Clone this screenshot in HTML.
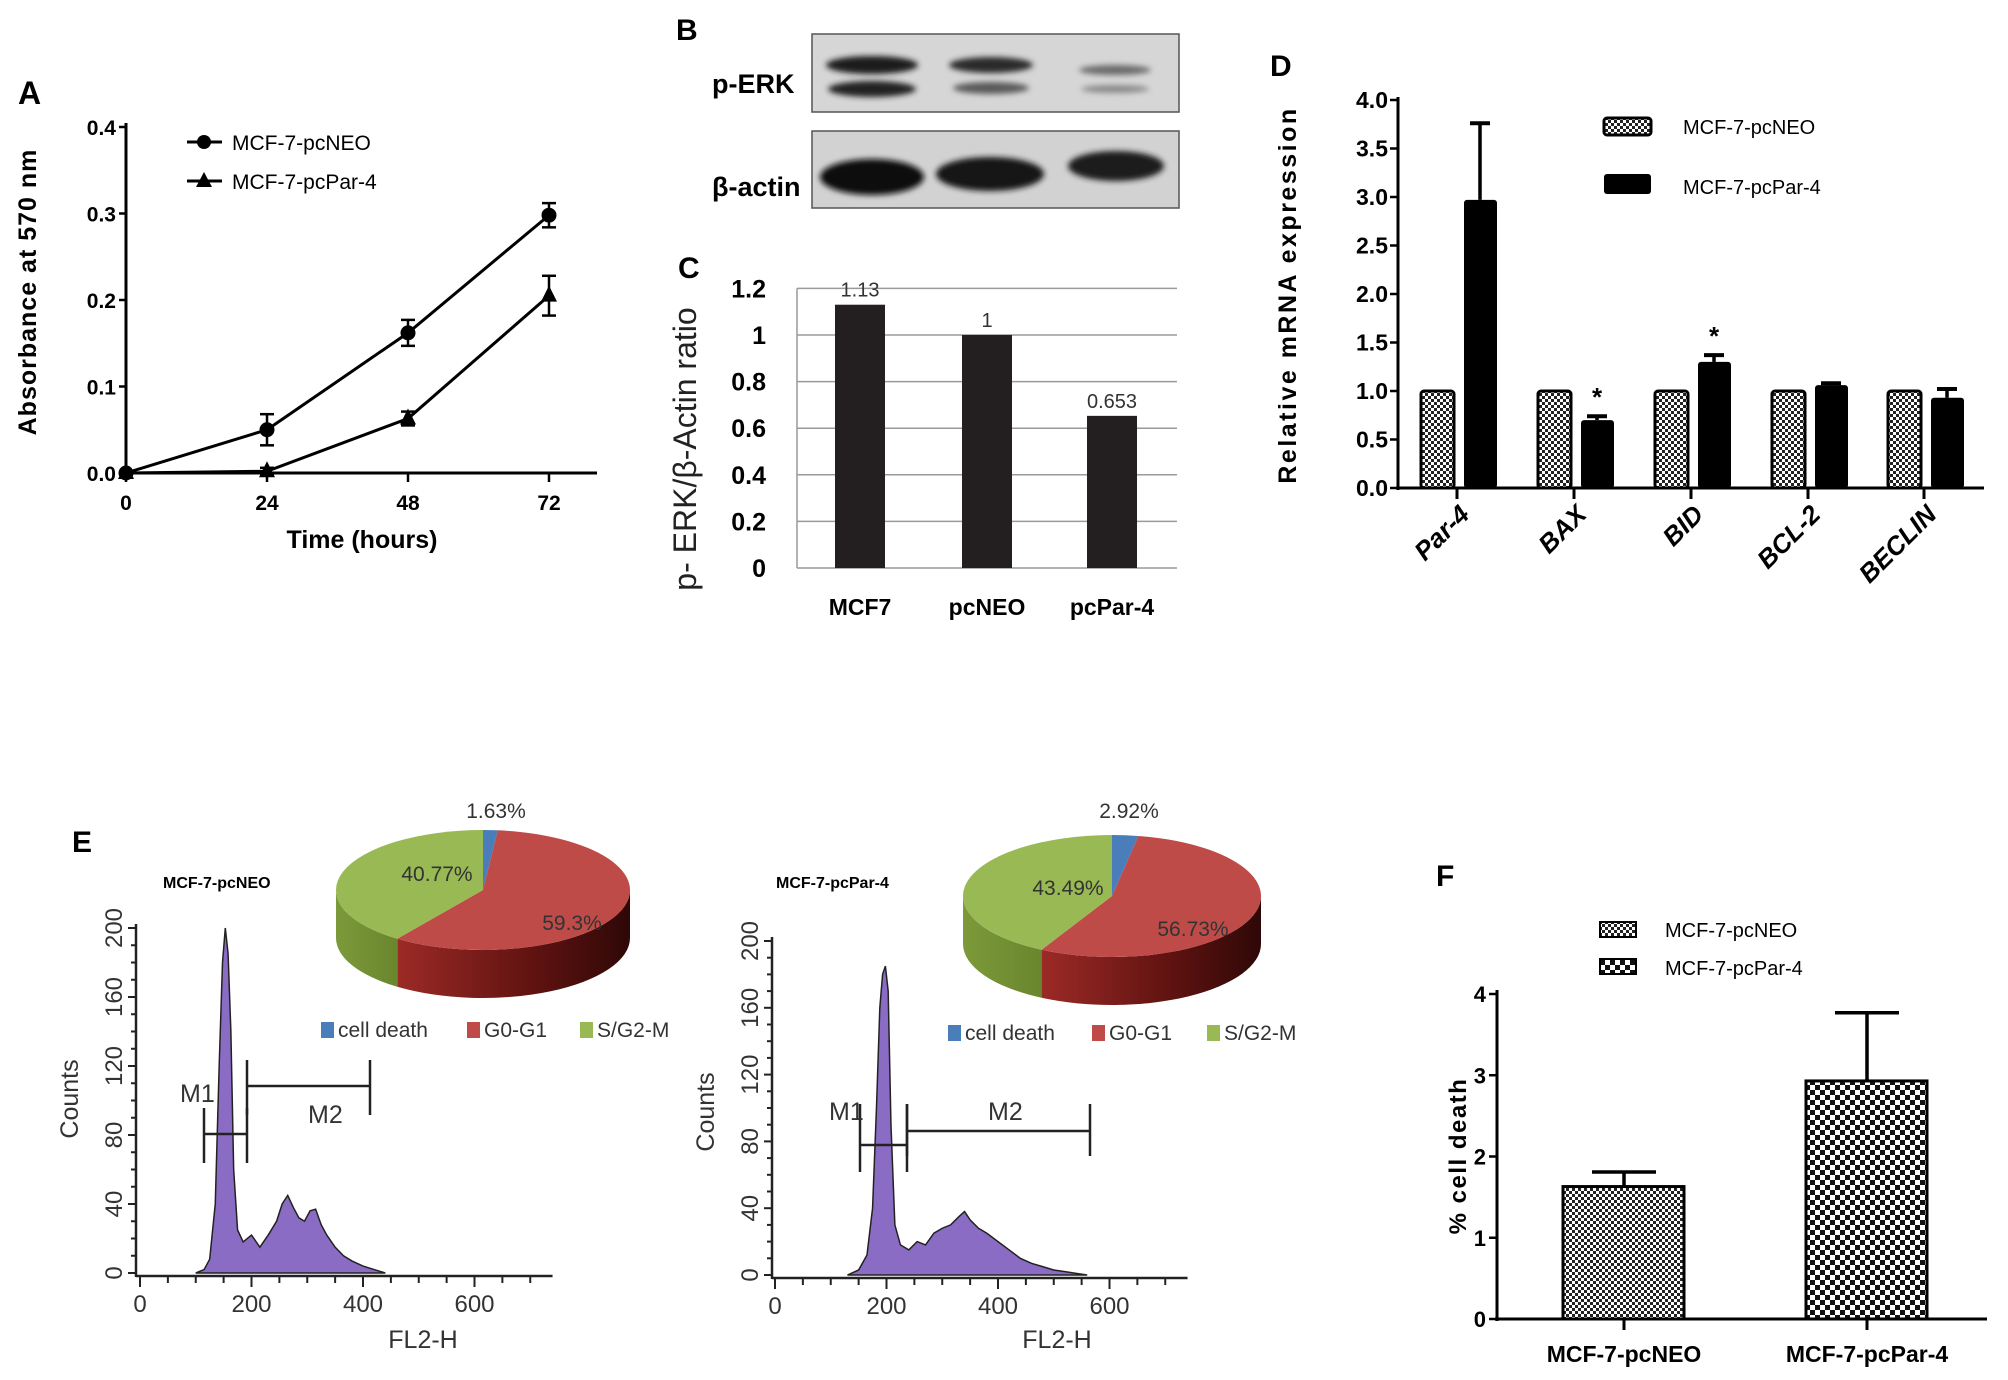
<!DOCTYPE html>
<html><head><meta charset="utf-8"><style>
html,body{margin:0;padding:0;background:#fff}
svg{display:block;font-family:"Liberation Sans",Arial,sans-serif}
.b{font-weight:bold}
</style></head><body>
<svg id="fig" width="2008" height="1380" viewBox="0 0 2008 1380" xmlns="http://www.w3.org/2000/svg">
<defs>
<pattern id="chk" width="6" height="6" patternUnits="userSpaceOnUse"><rect width="6" height="6" fill="#fff"/><rect width="3" height="3" fill="#222"/><rect x="3" y="3" width="3" height="3" fill="#222"/></pattern>
<pattern id="chk2" width="10" height="10" patternUnits="userSpaceOnUse"><rect width="10" height="10" fill="#fff"/><rect width="5" height="5" fill="#111"/><rect x="5" y="5" width="5" height="5" fill="#111"/></pattern>
<filter id="blur" x="-20%" y="-50%" width="140%" height="200%"><feGaussianBlur stdDeviation="3"/></filter>
<linearGradient id="redside" x1="0" x2="1"><stop offset="0" stop-color="#9c2a26"/><stop offset="0.6" stop-color="#5e1210"/><stop offset="1" stop-color="#2e0807"/></linearGradient>
<linearGradient id="greenside" x1="0" x2="1"><stop offset="0" stop-color="#7c9a3a"/><stop offset="1" stop-color="#6a862e"/></linearGradient>
</defs>

<!-- Panel A static -->
<text x="18" y="104" font-size="32" class="b">A</text>
<text transform="translate(36,292) rotate(-90)" text-anchor="middle" font-size="25" class="b" letter-spacing="1">Absorbance at 570 nm</text>
<text x="362" y="548" text-anchor="middle" font-size="25" class="b">Time (hours)</text>
<g>
<line x1="187" y1="142" x2="222" y2="142" stroke="#000" stroke-width="3"/><circle cx="204" cy="142" r="7"/>
<text x="232" y="150" font-size="21">MCF-7-pcNEO</text>
<line x1="187" y1="181" x2="222" y2="181" stroke="#000" stroke-width="3"/><polygon points="204,172 212,187 196,187"/>
<text x="232" y="189" font-size="21">MCF-7-pcPar-4</text>
</g>
<g id="gA"></g>

<!-- Panel B -->
<text x="676" y="40" font-size="30" class="b">B</text>
<text x="712" y="93" font-size="27" class="b">p-ERK</text>
<text x="712" y="196" font-size="27" class="b">β-actin</text>
<g>
<rect x="812" y="34" width="367" height="78" fill="#d6d6d6" stroke="#555" stroke-width="1.5"/>
<g filter="url(#blur)">
<ellipse cx="872" cy="65" rx="46" ry="9" fill="#1a1a1a"/><ellipse cx="872" cy="89" rx="44" ry="8" fill="#222"/>
<ellipse cx="991" cy="65" rx="42" ry="8" fill="#2a2a2a"/><ellipse cx="991" cy="88" rx="38" ry="6" fill="#5a5a5a"/>
<ellipse cx="1115" cy="70" rx="36" ry="5" fill="#6a6a6a"/><ellipse cx="1115" cy="89" rx="34" ry="4" fill="#8a8a8a"/>
</g></g>
<g>
<rect x="812" y="131" width="367" height="77" fill="#d2d2d2" stroke="#555" stroke-width="1.5"/>
<g filter="url(#blur)">
<ellipse cx="872" cy="177" rx="52" ry="18" fill="#111"/><ellipse cx="990" cy="174" rx="54" ry="17" fill="#181818"/><ellipse cx="1116" cy="166" rx="48" ry="15" fill="#1c1c1c"/>
</g></g>

<!-- Panel C -->
<text x="678" y="278" font-size="30" class="b">C</text>
<text transform="translate(696,449) rotate(-90)" text-anchor="middle" font-size="32" fill="#222">p- ERK/β-Actin ratio</text>
<g id="gC"></g>

<!-- Panel D -->
<text x="1270" y="76" font-size="30" class="b">D</text>
<text transform="translate(1296,295) rotate(-90)" text-anchor="middle" font-size="25" class="b" letter-spacing="2.5">Relative mRNA expression</text>
<g>
<rect x="1604" y="118" width="47" height="17" rx="3" fill="url(#chk)" stroke="#000" stroke-width="3"/>
<text x="1683" y="134" font-size="20">MCF-7-pcNEO</text>
<rect x="1604" y="174" width="47" height="20" rx="3" fill="#000"/>
<text x="1683" y="194" font-size="20">MCF-7-pcPar-4</text>
</g>
<g id="gD"></g>

<!-- Panel E -->
<text x="72" y="852" font-size="30" class="b">E</text>
<text x="163" y="888" font-size="16" class="b">MCF-7-pcNEO</text>
<text x="776" y="888" font-size="16" class="b">MCF-7-pcPar-4</text>
<text transform="translate(78,1099) rotate(-90)" text-anchor="middle" font-size="25" fill="#333">Counts</text>
<text transform="translate(714,1112) rotate(-90)" text-anchor="middle" font-size="25" fill="#333">Counts</text>
<text x="423" y="1348" text-anchor="middle" font-size="25" fill="#333">FL2-H</text>
<text x="1057" y="1348" text-anchor="middle" font-size="25" fill="#333">FL2-H</text>
<g id="gE"></g>

<!-- Panel F -->
<text x="1436" y="886" font-size="30" class="b">F</text>
<text transform="translate(1466,1156) rotate(-90)" text-anchor="middle" font-size="24" class="b" letter-spacing="1.5">% cell death</text>
<g>
<rect x="1600" y="922" width="36" height="15" fill="url(#chk)" stroke="#000" stroke-width="2"/>
<text x="1665" y="937" font-size="20">MCF-7-pcNEO</text>
<rect x="1600" y="959" width="36" height="15" fill="url(#chk2)" stroke="#000" stroke-width="2"/>
<text x="1665" y="975" font-size="20">MCF-7-pcPar-4</text>
</g>
<g id="gF"></g>
</svg>
<script>
// ---------- DATA ----------
const aTimes = [0, 24, 48, 72];
const aNeo = [0, 0.05, 0.162, 0.298];
const aNeoErr = [0, 0.018, 0.015, 0.014];
const aPar = [0, 0.002, 0.063, 0.205];
const aParErr = [0, 0.004, 0.008, 0.023];
const aYTicks = ["0.0", "0.1", "0.2", "0.3", "0.4"];

const cCats = ["MCF7", "pcNEO", "pcPar-4"];
const cVals = [1.13, 1, 0.653];
const cLabels = ["1.13", "1", "0.653"];
const cYTicks = ["0", "0.2", "0.4", "0.6", "0.8", "1", "1.2"];

const dCats = ["Par-4", "BAX", "BID", "BCL-2", "BECLIN"];
const dNeo = [1, 1, 1, 1, 1];
const dPar = [2.97, 0.70, 1.30, 1.06, 0.93];
const dParErr = [0.79, 0.04, 0.07, 0.02, 0.09];
const dStars = ["", "*", "*", "", ""];
const dYTicks = ["0.0", "0.5", "1.0", "1.5", "2.0", "2.5", "3.0", "3.5", "4.0"];

const h1Fl2 = [100,115,125,135,142,148,153,158,163,168,175,185,200,215,230,245,255,265,275,285,295,305,315,325,335,350,365,380,400,420,440];
const h1Counts = [0,2,8,40,120,180,200,185,140,60,25,18,22,15,22,30,40,45,38,32,30,36,37,28,22,15,10,7,4,2,0];
const h2Fl2 = [130,150,165,175,182,188,193,198,203,208,215,225,240,255,270,285,300,315,330,340,350,365,380,400,420,440,460,480,500,520,540,560];
const h2Counts = [0,3,12,40,100,160,180,185,170,90,30,18,15,20,18,25,28,30,35,38,33,28,25,20,15,10,7,5,3,2,1,0];
const hXTicks = ["0", "200", "400", "600"];
const hYTicks = ["0", "40", "80", "120", "160", "200"];
const pie1Vals = [1.63, 59.3, 40.77];
const pie2Vals = [2.92, 56.73, 43.49];
const pieLabels1 = ["1.63%", "59.3%", "40.77%"];
const pieLabels2 = ["2.92%", "56.73%", "43.49%"];
const pieLegend = ["cell death", "G0-G1", "S/G2-M"];

const fCats = ["MCF-7-pcNEO", "MCF-7-pcPar-4"];
const fVals = [1.63, 2.93];
const fErr = [0.18, 0.84];
const fYTicks = ["0", "1", "2", "3", "4"];

// ---------- helpers ----------
const NS = "http://www.w3.org/2000/svg";
function mk(parent, tag, attrs, name) {
  const el = document.createElementNS(NS, tag);
  for (const k in attrs) el.setAttribute(k, attrs[k]);
  
  
  parent.appendChild(el);
  return el;
}
function txt(parent, x, y, s, size, name, extra) {
  const t = mk(parent, 'text', Object.assign({x: x, y: y, 'font-size': size}, extra || {}), name);
  t.textContent = s;
  return t;
}
function line(p, x1, y1, x2, y2, w, name, col) {
  return mk(p, 'line', {x1: x1, y1: y1, x2: x2, y2: y2, stroke: col || '#000', 'stroke-width': w}, name);
}

// ---------- Panel A ----------
(function(){
  const g = document.getElementById('gA');
  const xA = t => 126 + t * (423 / 72);
  const yA = v => 473 - v * 865;
  line(g, 126, 123, 126, 475, 3, 'a-y-axis');
  line(g, 124, 473, 597, 473, 3, 'a-x-axis');
  aYTicks.forEach((s, i) => {
    const v = i * 0.1;
    line(g, 119, yA(v), 126, yA(v), 2.5, 'a-y-tick');
    txt(g, 116, yA(v) + 8, s, 21, 'a-y-tick-label', {'text-anchor': 'end', 'font-weight': 'bold'});
  });
  aTimes.forEach(t => {
    line(g, xA(t), 473, xA(t), 482, 2.5, 'a-x-tick');
    txt(g, xA(t), 510, String(t), 21, 'a-x-tick-label', {'text-anchor': 'middle', 'font-weight': 'bold'});
  });
  function series(vals, errs, marker, nm) {
    const pts = vals.map((v, i) => xA(aTimes[i]) + ',' + yA(v)).join(' ');
    mk(g, 'polyline', {points: pts, fill: 'none', stroke: '#000', 'stroke-width': 3}, nm + '-line');
    vals.forEach((v, i) => {
      const x = xA(aTimes[i]), e = errs[i];
      if (e > 0) {
        line(g, x, yA(v + e), x, yA(v - e), 2.5, nm + '-error-bar');
        line(g, x - 7, yA(v + e), x + 7, yA(v + e), 2.5, nm + '-error-cap');
        line(g, x - 7, yA(v - e), x + 7, yA(v - e), 2.5, nm + '-error-cap');
      }
      if (marker === 'c') mk(g, 'circle', {cx: x, cy: yA(v), r: 7.5}, nm + '-point');
      else mk(g, 'polygon', {points: `${x},${yA(v)-10} ${x+8},${yA(v)+6} ${x-8},${yA(v)+6}`}, nm + '-point');
    });
  }
  series(aPar, aParErr, 't', 'a-pcpar4');
  series(aNeo, aNeoErr, 'c', 'a-pcneo');
})();

// ---------- Panel C ----------
(function(){
  const g = document.getElementById('gC');
  const yC = v => 568 - v * 233;
  const xs = [860, 987, 1112];
  cYTicks.forEach((s, i) => {
    const v = i * 0.2;
    line(g, 797, yC(v), 1177, yC(v), 1.5, 'c-gridline', '#9a9a9a');
    txt(g, 766, yC(v) + 9, s, 25, 'c-y-tick-label', {'text-anchor': 'end', 'font-weight': 'bold'});
  });
  line(g, 797, yC(1.2), 797, yC(0), 1.5, 'c-y-axis', '#9a9a9a');
  cVals.forEach((v, i) => {
    mk(g, 'rect', {x: xs[i] - 25, y: yC(v), width: 50, height: yC(0) - yC(v), fill: '#231f20'}, 'c-bar-' + cCats[i]);
    txt(g, xs[i], yC(v) - 8, cLabels[i], 20, 'c-value-label', {'text-anchor': 'middle', fill: '#333'});
    txt(g, xs[i], 615, cCats[i], 23, 'c-category-label', {'text-anchor': 'middle', 'font-weight': 'bold'});
  });
})();

// ---------- Panel D ----------
(function(){
  const g = document.getElementById('gD');
  const yD = v => 488 - v * 97;
  const ticks = [1457, 1574, 1691, 1808, 1924];
  line(g, 1398, 97, 1398, 490, 3, 'd-y-axis');
  line(g, 1396, 488, 1984, 488, 3, 'd-x-axis');
  dYTicks.forEach((s, i) => {
    const v = i * 0.5;
    line(g, 1390, yD(v), 1398, yD(v), 2.5, 'd-y-tick');
    txt(g, 1388, yD(v) + 8, s, 23, 'd-y-tick-label', {'text-anchor': 'end', 'font-weight': 'bold'});
  });
  dCats.forEach((c, i) => {
    const t = ticks[i];
    line(g, t, 488, t, 499, 3, 'd-x-tick');
    mk(g, 'rect', {x: t - 36, y: yD(dNeo[i]), width: 33, height: yD(0) - yD(dNeo[i]), rx: 3, fill: 'url(#chk)', stroke: '#000', 'stroke-width': 3}, 'd-bar-pcneo-' + c);
    const v = dPar[i], e = dParErr[i];
    line(g, t + 23, yD(v), t + 23, yD(v + e), 3.5, 'd-error-bar');
    line(g, t + 13, yD(v + e), t + 33, yD(v + e), 4, 'd-error-cap');
    mk(g, 'rect', {x: t + 7, y: yD(v), width: 33, height: yD(0) - yD(v), rx: 3, fill: '#000'}, 'd-bar-pcpar4-' + c);
    if (dStars[i]) txt(g, t + 23, yD(v + e) - 10, dStars[i], 26, 'd-significance-star', {'text-anchor': 'middle', 'font-weight': 'bold'});
    txt(g, 0, 0, c, 26, 'd-category-label', {'text-anchor': 'end', 'font-weight': 'bold', 'font-style': 'italic', transform: `translate(${t + 14},516) rotate(-45)`});
  });
})();

// ---------- Panel E ----------
(function(){
  const g = document.getElementById('gE');
  function hist(fl2, counts, x0, y0, ax, yTop, nm) {
    const hx = f => x0 + f * 111.5 / 200;
    const hy = c => y0 - c * (y0 - yTop) / 200;
    line(g, ax, yTop - 4, ax, y0 + 4, 2.5, nm + '-y-axis', '#222');
    for (let c = 0; c <= 200; c += 10) line(g, ax - (c % 40 === 0 ? 8 : 5), hy(c), ax, hy(c), 2, nm + '-y-tick', '#222');
    hYTicks.forEach((s, i) => txt(g, 0, 0, s, 24, nm + '-y-tick-label', {'text-anchor': 'middle', fill: '#333', transform: `translate(${ax - 14},${hy(i * 40)}) rotate(-90)`}));
    line(g, ax, y0 + 3, hx(740), y0 + 3, 2.5, nm + '-x-axis', '#222');
    for (let f = 0; f <= 700; f += 50) line(g, hx(f), y0 + 3, hx(f), y0 + (f % 200 === 0 ? 14 : 10), 2, nm + '-x-tick', '#222');
    hXTicks.forEach(s => txt(g, hx(+s), y0 + 39, s, 24, nm + '-x-tick-label', {'text-anchor': 'middle', fill: '#333'}));
    let d = 'M' + hx(fl2[0]) + ',' + hy(0);
    fl2.forEach((f, i) => { d += ' L' + hx(f) + ',' + hy(counts[i]); });
    d += ' Z';
    mk(g, 'path', {d: d, fill: '#8b6cc4', stroke: '#222', 'stroke-width': 1.5}, nm + '-histogram');
    return {hx: hx, hy: hy};
  }
  hist(h1Fl2, h1Counts, 140, 1273, 136, 928, 'hist1');
  hist(h2Fl2, h2Counts, 775, 1275, 772, 941, 'hist2');
  function marker(x1, x2, y, v1, v2, label, lx, ly, nm) {
    line(g, x1, y, x2, y, 2.5, nm, '#222');
    line(g, x1, v1, x1, v2, 2.5, nm + '-bound', '#222');
    line(g, x2, v1, x2, v2, 2.5, nm + '-bound', '#222');
    txt(g, lx, ly, label, 25, nm + '-label', {fill: '#333'});
  }
  marker(204, 247, 1134, 1108, 1163, 'M1', 180, 1102, 'hist1-m1');
  marker(247, 370, 1086, 1060, 1115, 'M2', 308, 1123, 'hist1-m2');
  marker(860, 907, 1145, 1104, 1172, 'M1', 829, 1120, 'hist2-m1');
  marker(907, 1090, 1131, 1104, 1156, 'M2', 988, 1120, 'hist2-m2');

  function pie(vals, labels, cx, cy, rx, ry, dep, lblPos, legY, legX, nm) {
    const total = vals.reduce((a, b) => a + b, 0);
    const cols = ['#4a7ebb', '#be4b48', '#98b954'];
    const sides = ['#3a6398', 'url(#redside)', 'url(#greenside)'];
    let a = -Math.PI / 2;
    const angs = vals.map(v => { const s = a; a += v / total * 2 * Math.PI; return [s, a]; });
    const P = (t, dy) => [cx + rx * Math.cos(t), cy + ry * Math.sin(t) + (dy || 0)];
    angs.forEach((r, i) => {
      let s = Math.max(r[0], 0), e = Math.min(r[1], Math.PI);
      if (e <= s) return;
      const p1 = P(s), p2 = P(e), p3 = P(e, dep), p4 = P(s, dep);
      const d = `M${p1} A${rx},${ry} 0 0 1 ${p2} L${p3} A${rx},${ry} 0 0 0 ${p4} Z`;
      mk(g, 'path', {d: d, fill: sides[i]}, nm + '-side-' + i);
    });
    angs.forEach((r, i) => {
      const p1 = P(r[0]), p2 = P(r[1]);
      const large = (r[1] - r[0]) > Math.PI ? 1 : 0;
      mk(g, 'path', {d: `M${cx},${cy} L${p1} A${rx},${ry} 0 ${large} 1 ${p2} Z`, fill: cols[i]}, nm + '-slice-' + i);
      txt(g, lblPos[i][0], lblPos[i][1], labels[i], 21, nm + '-slice-label', {'text-anchor': 'middle', fill: '#333'});
    });
    pieLegend.forEach((s, i) => {
      mk(g, 'rect', {x: legX[i], y: legY - 15, width: 13, height: 16, fill: cols[i]}, nm + '-legend-swatch');
      txt(g, legX[i] + 17, legY, s, 21, nm + '-legend-label', {fill: '#333'});
    });
  }
  pie(pie1Vals, pieLabels1, 483, 890, 147, 60, 48, [[496, 818], [572, 930], [437, 881]], 1037, [321, 467, 580], 'pie1');
  pie(pie2Vals, pieLabels2, 1112, 896, 149, 61, 48, [[1129, 818], [1193, 936], [1068, 895]], 1040, [948, 1092, 1207], 'pie2');
})();

// ---------- Panel F ----------
(function(){
  const g = document.getElementById('gF');
  const yF = v => 1319 - v * 81.25;
  const xs = [1624, 1867];
  const pats = ['url(#chk)', 'url(#chk2)'];
  line(g, 1497, 990, 1497, 1321, 3, 'f-y-axis');
  line(g, 1495, 1319, 1987, 1319, 3, 'f-x-axis');
  fYTicks.forEach((s, i) => {
    line(g, 1489, yF(i), 1497, yF(i), 2.5, 'f-y-tick');
    txt(g, 1486, yF(i) + 8, s, 22, 'f-y-tick-label', {'text-anchor': 'end', 'font-weight': 'bold'});
  });
  fVals.forEach((v, i) => {
    const x = xs[i], e = fErr[i];
    line(g, x, yF(v), x, yF(v + e), 3.5, 'f-error-bar');
    line(g, x - 32, yF(v + e), x + 32, yF(v + e), 3.5, 'f-error-cap');
    mk(g, 'rect', {x: x - 61, y: yF(v), width: 121, height: yF(0) - yF(v), fill: pats[i], stroke: '#000', 'stroke-width': 3}, 'f-bar-' + fCats[i]);
    line(g, x, 1319, x, 1330, 3, 'f-x-tick');
    txt(g, x, 1362, fCats[i], 23, 'f-category-label', {'text-anchor': 'middle', 'font-weight': 'bold'});
  });
})();
</script>
</body></html>
